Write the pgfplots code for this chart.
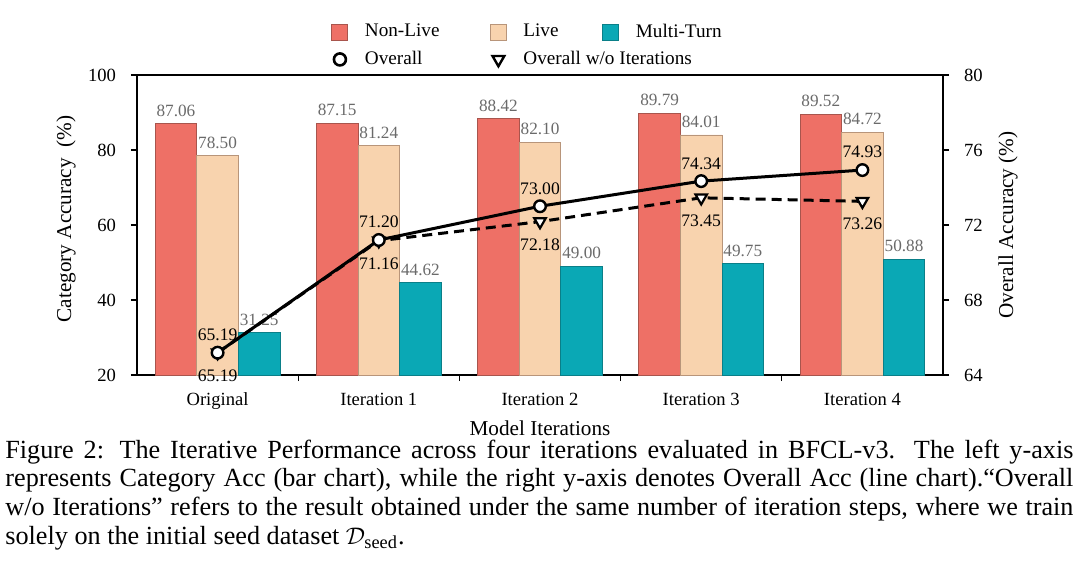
\documentclass[border=0pt]{standalone}
\usepackage{fontspec}
\setmainfont{Liberation Serif}
\usepackage{amsmath}
\usepackage{pgfplots}
\pgfplotsset{compat=1.18}
\definecolor{nonlive}{HTML}{EE7066}
\definecolor{nonliveedge}{HTML}{A8554D}
\definecolor{live}{HTML}{F8D3AE}
\definecolor{liveedge}{HTML}{B8957A}
\definecolor{multi}{HTML}{0AA8B5}
\definecolor{multiedge}{HTML}{0A7F88}
\definecolor{barlabel}{HTML}{6A6A6A}
\pgfplotsset{
  /pgf/number format/assume math mode=true,
  common/.style={
    at={(0,0)}, anchor=south west,
    scale only axis, width=403pt, height=150pt,
    xmin=-0.5, xmax=4.5,
    tick align=outside,
    major tick length=3pt,
    axis line style={black, line width=0.6pt},
    tick style={black, line width=0.6pt},
    tick label style={font=\fontsize{9.3}{11}\selectfont},
    label style={font=\fontsize{10.6}{12}\selectfont},
  },
  twodec/.style={nodes near coords={\pgfmathprintnumber[fixed,fixed zerofill,precision=2]{\pgfplotspointmeta}}},
}
\begin{document}
\begin{tikzpicture}
\useasboundingbox (-68.5pt,-96.5pt) rectangle (471.5pt,187.5pt);
\begin{axis}[common,
  ybar=0pt, bar width=20.8pt,
  ymin=20, ymax=100,
  ytick={20,40,60,80,100},
  ytick pos=left, xtick pos=lower,
  xtick={0.5,1.5,2.5,3.5}, xticklabels={},
  extra x ticks={0,1,2,3,4},
  extra x tick labels={Original,Iteration 1,Iteration 2,Iteration 3,Iteration 4},
  extra x tick style={major tick length=0pt},
  xticklabel style={yshift=-5.5pt},
  yticklabel style={xshift=-4pt},
  ylabel={Category Accuracy\ \ (\%)},
  ylabel style={at={(axis description cs:-0.0881,0.52)}, anchor=center},
  xlabel={Model Iterations},
  xlabel style={at={(axis description cs:0.5,-0.176)}, anchor=center},
  every node near coord/.append style={font=\fontsize{8.6}{10}\selectfont, text=barlabel},
]
\addplot[fill=nonlive, draw=nonliveedge, line width=0.4pt, twodec]
  coordinates {(0,87.06) (1,87.15) (2,88.42) (3,89.79) (4,89.52)};
\addplot[fill=live, draw=liveedge, line width=0.4pt, twodec]
  coordinates {(0,78.50) (1,81.24) (2,82.10) (3,84.01) (4,84.72)};
\addplot[fill=multi, draw=multiedge, line width=0.4pt, twodec]
  coordinates {(0,31.25) (1,44.62) (2,49.00) (3,49.75) (4,50.88)};
\end{axis}
\begin{axis}[common,
  ymin=64, ymax=80,
  ytick={64,68,72,76,80},
  axis y line*=right, axis x line=none,
  yticklabel style={xshift=4pt},
  ylabel={Overall Accuracy (\%)},
  ylabel style={at={(axis description cs:1.0806,0.5)}, anchor=center, rotate=0},
  legend columns=3,
  legend style={at={(0.2407,1)}, anchor=south west, yshift=1.5pt, draw=none, fill=none,
    inner sep=0pt, font=\fontsize{9.6}{11}\selectfont, column sep=0pt, row sep=1.5pt,
    nodes={inner sep=2pt}},
  legend cell align=left,
]
\addlegendimage{legend image code/.code={\path[draw=none,fill=none] (-4pt,-4pt) rectangle (10.5pt,4pt); \draw[fill=nonlive, draw=nonliveedge, line width=0.5pt] (-4pt,-4pt) rectangle (4pt,4pt);}}
\addlegendentry{\makebox[60.5pt][l]{Non-Live}}
\addlegendimage{legend image code/.code={\path[draw=none,fill=none] (-4pt,-4pt) rectangle (10.5pt,4pt); \draw[fill=live, draw=liveedge, line width=0.5pt] (-4pt,-4pt) rectangle (4pt,4pt);}}
\addlegendentry{\makebox[37.5pt][l]{Live}}
\addlegendimage{legend image code/.code={\path[draw=none,fill=none] (-4pt,-4pt) rectangle (10.5pt,4pt); \draw[fill=multi, draw=multiedge, line width=0.5pt] (-4pt,-4pt) rectangle (4pt,4pt);}}
\addlegendentry{Multi-Turn}
\addlegendimage{legend image code/.code={\path[draw=none,fill=none] (-4pt,-4pt) rectangle (10.5pt,4pt); \path[draw=none,fill=none] plot[only marks, mark=*, mark size=3pt, mark options={fill=white, draw=black, line width=1.3pt}] coordinates {(0pt,0pt)};}}
\addlegendentry{\makebox[60.5pt][l]{Overall}}
\addlegendimage{legend image code/.code={\path[draw=none,fill=none] (-4pt,-4pt) rectangle (10.5pt,4pt); \path[draw=none,fill=none] plot[only marks, mark=triangle*, mark size=3.4pt, mark options={fill=white, draw=black, line width=1.2pt, rotate=180}] coordinates {(0pt,0pt)};}}
\addlegendentry{\makebox[37.5pt][l]{Overall w/o Iterations}}
% w/o iterations (dashed)
\addplot[forget plot, black, line width=1.5pt, dash pattern=on 5pt off 3pt,
  mark=triangle*, mark size=3.3pt, mark options={solid, fill=white, draw=black, line width=1.1pt, rotate=180},
  twodec, every node near coord/.append style={anchor=north, yshift=-4.6pt, font=\fontsize{8.8}{10}\selectfont, text=black}]
  coordinates {(0,65.19) (1,71.16) (2,72.18) (3,73.45) (4,73.26)};
% overall (solid)
\addplot[forget plot, black, line width=1.5pt,
  mark=*, mark size=2.9pt, mark options={solid, fill=white, draw=black, line width=1.2pt},
  twodec, every node near coord/.append style={anchor=south, yshift=2pt, font=\fontsize{8.8}{10}\selectfont, text=black}]
  coordinates {(0,65.19) (1,71.20) (2,73.00) (3,74.34) (4,74.93)};
\end{axis}
\begin{scope}[every node/.style={anchor=base west, inner sep=0pt, font=\fontsize{13.1}{15}\selectfont}]
\node at (-66pt,-41.5pt) {\makebox[534pt][s]{Figure 2: The Iterative Performance across four iterations evaluated in BFCL-v3. The left y-axis}};
\node at (-66pt,-55.85pt) {\makebox[534pt][s]{represents Category Acc (bar chart), while the right y-axis denotes Overall Acc (line chart).“Overall}};
\node at (-66pt,-70.2pt) {\makebox[534pt][s]{w/o Iterations” refers to the result obtained under the same number of iteration steps, where we train}};
\node at (-66pt,-84.55pt) {solely on the initial seed dataset $\mathcal{D}_{\text{seed}}$.};
\end{scope}
\end{tikzpicture}
\end{document}
